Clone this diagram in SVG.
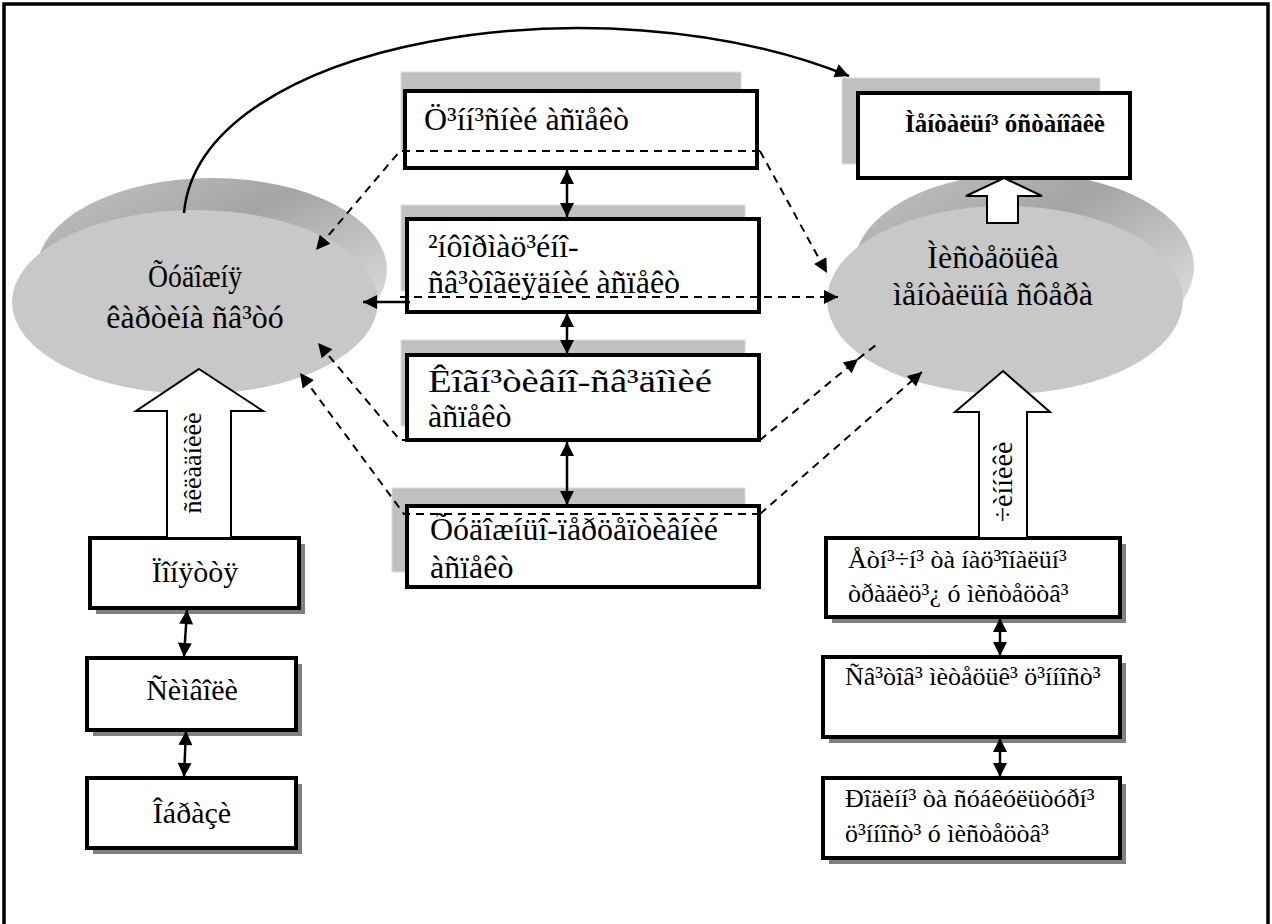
<svg xmlns="http://www.w3.org/2000/svg" width="1272" height="924" viewBox="0 0 1272 924">
<style>
text{font-family:"Liberation Serif","Times New Roman",serif;fill:#000}
.box{fill:#fff;stroke:#000;stroke-width:4}
.gshadow{fill:#c0c0c0;stroke:#dcdcdc;stroke-width:1}
.dshadow{fill:#808080}
.face{fill:#c8c8c8}
.dash{fill:none;stroke:#000;stroke-width:2;stroke-dasharray:8,6}
.solid{fill:none;stroke:#000;stroke-width:2.5}
.block{fill:#fff;stroke:#000;stroke-width:2}
.c32{font-size:32px}
.c30{font-size:30px}
.c26{font-size:26px}
</style>
<defs>
<marker id="ah" viewBox="0 0 10 10" refX="10" refY="5" markerWidth="16" markerHeight="14" markerUnits="userSpaceOnUse" orient="auto-start-reverse">
<path d="M0,0 L10,5 L0,10 z" fill="#000"/>
</marker>
<linearGradient id="rim" x1="0" y1="0" x2="1" y2="1">
<stop offset="0" stop-color="#c4c4c4"/>
<stop offset="0.4" stop-color="#a4a4a4"/>
<stop offset="0.8" stop-color="#d6d6d6"/>
<stop offset="1" stop-color="#ececec"/>
</linearGradient>
</defs>
<rect x="4" y="4" width="1264" height="930" fill="#fff" stroke="#000" stroke-width="3.5"/>

<g id="node-left-ellipse">
<ellipse cx="212" cy="270" rx="175" ry="92" fill="url(#rim)"/>
<ellipse cx="195" cy="302" rx="183" ry="92" class="face"/>
<text class="c32" x="195" y="287" text-anchor="middle" textLength="94" lengthAdjust="spacingAndGlyphs">Õóäîæíÿ</text>
<text class="c32" x="195" y="328" text-anchor="middle">êàðòèíà ñâ³òó</text>
</g>

<g id="node-right-ellipse">
<ellipse cx="1024" cy="267" rx="170" ry="94" fill="url(#rim)"/>
<ellipse cx="1005" cy="300" rx="178" ry="94" class="face"/>
<text class="c32" x="993" y="268" text-anchor="middle">Ìèñòåöüêà</text>
<text class="c32" x="993" y="305" text-anchor="middle">ìåíòàëüíà ñôåðà</text>
</g>

<g id="node-c1">
<rect class="gshadow" x="401" y="72" width="340" height="80"/>
<rect class="box" x="405" y="91" width="352" height="77"/>
<text class="c32" x="424" y="130">Ö³íí³ñíèé àñïåêò</text>
</g>
<g id="node-c2">
<rect class="gshadow" x="401" y="205" width="344" height="86"/>
<rect class="box" x="407" y="219" width="352" height="93"/>
<text class="c32" x="428" y="257">²íôîðìàö³éíî-</text>
<text class="c32" x="428" y="293">ñâ³òîãëÿäíèé àñïåêò</text>
</g>
<g id="node-c3">
<rect class="gshadow" x="401" y="340" width="344" height="86"/>
<rect class="box" x="407" y="355" width="352" height="85"/>
<text class="c32" x="428" y="392" textLength="284" lengthAdjust="spacingAndGlyphs">Êîãí³òèâíî-ñâ³äîìèé</text>
<text class="c32" x="428" y="427">àñïåêò</text>
</g>
<g id="node-c4">
<rect class="gshadow" x="392" y="488" width="353" height="84"/>
<rect class="box" x="407" y="506" width="352" height="81"/>
<text class="c32" x="430" y="540">Õóäîæíüî-ïåðöåïòèâíèé</text>
<text class="c32" x="430" y="578">àñïåêò</text>
</g>

<g id="node-mental">
<rect class="gshadow" x="842" y="78" width="258" height="86"/>
<rect class="box" x="858" y="93" width="272" height="85"/>
<text x="905" y="132" font-size="25" font-weight="bold">Ìåíòàëüí³ óñòàíîâêè</text>
</g>

<g id="node-ponyattya">
<rect class="dshadow" x="96" y="544" width="209" height="70"/>
<rect class="box" x="90" y="538" width="209" height="70"/>
<text class="c30" x="195" y="582" text-anchor="middle">Ïîíÿòòÿ</text>
</g>
<g id="node-symvoly">
<rect class="dshadow" x="93" y="664" width="209" height="72"/>
<rect class="box" x="87" y="658" width="209" height="72"/>
<text class="c30" x="192" y="700" text-anchor="middle">Ñèìâîëè</text>
</g>
<g id="node-obrazy">
<rect class="dshadow" x="93" y="784" width="209" height="70"/>
<rect class="box" x="87" y="778" width="209" height="70"/>
<text class="c30" x="192" y="823" text-anchor="middle">Îáðàçè</text>
</g>

<g id="node-r1">
<rect class="dshadow" x="832" y="544" width="294" height="79"/>
<rect class="box" x="826" y="538" width="294" height="79"/>
<text class="c26" x="848" y="568">Åòí³÷í³ òà íàö³îíàëüí³</text>
<text class="c26" x="848" y="602">òðàäèö³¿ ó ìèñòåöòâ³</text>
</g>
<g id="node-r2">
<rect class="dshadow" x="829" y="663" width="297" height="80"/>
<rect class="box" x="823" y="657" width="297" height="80"/>
<text class="c26" x="845" y="685">Ñâ³òîâ³ ìèòåöüê³ ö³ííîñò³</text>
</g>
<g id="node-r3">
<rect class="dshadow" x="829" y="784" width="297" height="80"/>
<rect class="box" x="823" y="778" width="297" height="80"/>
<text class="c26" x="845" y="807">Ðîäèíí³ òà ñóáêóëüòóðí³</text>
<text class="c26" x="845" y="842">ö³ííîñò³ ó ìèñòåöòâ³</text>
</g>

<g id="connectors">
<path class="solid" d="M184,213 C200,40 600,-25 849,76" marker-end="url(#ah)"/>
<polygon class="block" points="199,369 263,411 231,411 231,538 167,538 167,411 136,411"/>
<text x="0" y="0" font-size="26" text-anchor="middle" transform="translate(201,463) rotate(-90)">ñêëàäíèêè</text>
<polygon class="block" points="1003,371 1050,412 1027,412 1027,538 979,538 979,412 955,412"/>
<text x="0" y="0" font-size="28" text-anchor="middle" transform="translate(1012,482) rotate(-90)">÷èííèêè</text>
<polygon class="block" points="1004,178 1042,196 1018,196 1018,223 987,223 987,196 966,196"/>

<path class="solid" d="M567,170 L567,217" marker-start="url(#ah)" marker-end="url(#ah)"/>
<path class="solid" d="M567,313 L567,354" marker-start="url(#ah)" marker-end="url(#ah)"/>
<path class="solid" d="M567,442 L567,505" marker-start="url(#ah)" marker-end="url(#ah)"/>
<path class="solid" d="M187,610 L184,657" marker-start="url(#ah)" marker-end="url(#ah)"/>
<path class="solid" d="M186,731 L184,777" marker-start="url(#ah)" marker-end="url(#ah)"/>
<path class="solid" d="M1000,618 L1000,656" marker-start="url(#ah)" marker-end="url(#ah)"/>
<path class="solid" d="M1000,738 L1000,777" marker-start="url(#ah)" marker-end="url(#ah)"/>
<path class="solid" d="M410,302 L363,302" marker-end="url(#ah)"/>

<path class="dash" d="M760,151 L400,151 L316,250" marker-end="url(#ah)"/>
<path class="dash" d="M760,151 L827,273" marker-end="url(#ah)"/>
<path class="dash" d="M400,297 L838,297" marker-end="url(#ah)"/>
<path class="dash" d="M760,440 L400,440 L318,343" marker-end="url(#ah)"/>
<path class="dash" d="M760,440 L858,359" marker-end="url(#ah)"/>
<path class="dash" d="M858,359 L876,345"/>
<path class="dash" d="M760,514 L404,514 L300,373" marker-end="url(#ah)"/>
<path class="dash" d="M760,514 L922,372" marker-end="url(#ah)"/>
</g>
</svg>
